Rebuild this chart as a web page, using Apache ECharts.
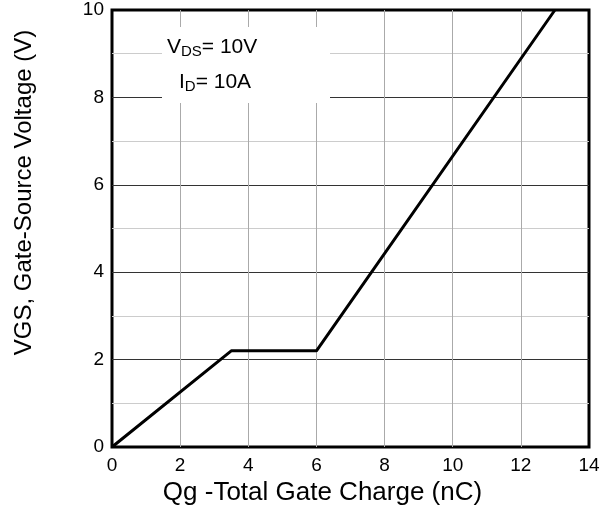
<!DOCTYPE html>
<html>
<head>
<meta charset="utf-8">
<script src="https://cdn.jsdelivr.net/npm/echarts@6/dist/echarts.min.js"></script>
<style>
html,body{margin:0;padding:0;background:#fff;}
#chart{width:610px;height:514px;}
</style>
</head>
<body>
<div id="chart"></div>
<script>
// Data
const qgValues = [0, 3.5, 6, 13];        // Total gate charge (nC)
const vgsValues = [0, 2.2, 2.2, 10];      // Gate-source voltage (V)
const xTicks = [0, 2, 4, 6, 8, 10, 12, 14];
const yTicks = [0, 2, 4, 6, 8, 10];
const xTitle = 'Qg -Total Gate Charge (nC)';
const yTitle = 'VGS, Gate-Source Voltage (V)';
const condVds = '10V';
const condId = '10A';

const FONT = "'Liberation Sans', Arial, sans-serif";
const chart = echarts.init(document.getElementById('chart'));

const seriesData = qgValues.map((q, i) => [q, vgsValues[i]]);

chart.setOption({
  animation: false,
  backgroundColor: '#fff',
  grid: {
    left: 112, right: 21, top: 10, bottom: 67,
    show: true, borderColor: '#000', borderWidth: 3, backgroundColor: 'transparent'
  },
  xAxis: {
    type: 'value',
    min: xTicks[0], max: xTicks[xTicks.length - 1], interval: 2,
    name: xTitle,
    nameLocation: 'middle',
    nameGap: 31,
    nameTextStyle: { fontFamily: FONT, fontSize: 26, color: '#000', padding: [0, 56, 0, 0] },
    axisLine: { show: false },
    axisTick: { show: false },
    axisLabel: { fontFamily: FONT, fontSize: 19, color: '#000', margin: 9 },
    splitLine: { show: true, showMinLine: false, showMaxLine: false, lineStyle: { color: '#aaa', width: 1 } }
  },
  yAxis: {
    type: 'value',
    min: yTicks[0], max: yTicks[yTicks.length - 1], interval: 2,
    name: yTitle,
    nameLocation: 'middle',
    nameGap: 76,
    nameRotate: 90,
    nameTextStyle: { fontFamily: FONT, fontSize: 24, color: '#000', padding: [0, 0, 0, 72] },
    axisLine: { show: false },
    axisTick: { show: false },
    axisLabel: { fontFamily: FONT, fontSize: 19, color: '#000', margin: 8 },
    splitLine: { show: true, showMinLine: false, showMaxLine: false, lineStyle: { color: '#333', width: 1 } },
    minorTick: { show: false, splitNumber: 2 },
    minorSplitLine: { show: true, lineStyle: { color: '#ccc', width: 1 } }
  },
  series: [{
    type: 'line',
    data: seriesData,
    showSymbol: false,
    symbol: 'none',
    lineStyle: { color: '#000', width: 3 },
    z: 3
  }],
  graphic: [
    { type: 'rect', shape: { x: 162, y: 27, width: 168, height: 76 }, style: { fill: '#fff' }, z: 10 },
    {
      type: 'text', left: 167, top: 37, z: 11,
      style: {
        text: '{m|V}{s|DS}{m|= ' + condVds + '}',
        rich: {
          m: { fontFamily: FONT, fontSize: 21, fill: '#000' },
          s: { fontFamily: FONT, fontSize: 15, fill: '#000', padding: [9, 0, 0, 0] }
        }
      }
    },
    {
      type: 'text', left: 179, top: 72, z: 11,
      style: {
        text: '{m|I}{s|D}{m|= ' + condId + '}',
        rich: {
          m: { fontFamily: FONT, fontSize: 21, fill: '#000' },
          s: { fontFamily: FONT, fontSize: 15, fill: '#000', padding: [9, 0, 0, 0] }
        }
      }
    }
  ]
});
</script>
</body>
</html>
